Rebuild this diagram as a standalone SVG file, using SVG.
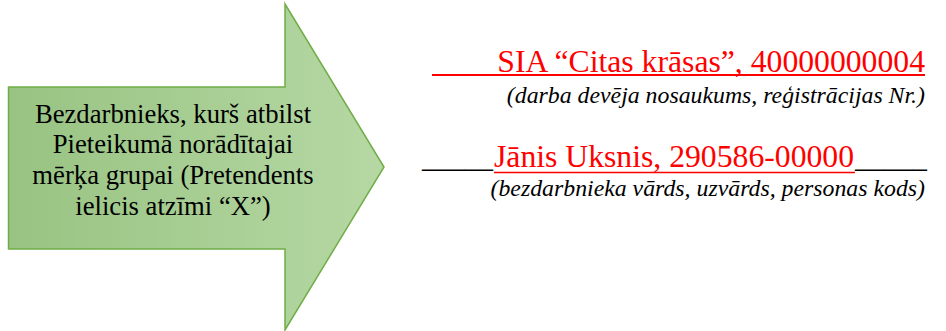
<svg xmlns="http://www.w3.org/2000/svg" width="946" height="331" viewBox="0 0 946 331">
<defs>
<linearGradient id="g" x1="0" y1="0" x2="1" y2="0">
<stop offset="0" stop-color="#98c382"/>
<stop offset="1" stop-color="#b6d8a4"/>
</linearGradient>
<style>
text{font-family:'Liberation Serif','Times New Roman',Tinos,'DejaVu Serif',serif}
.a{font-size:26.67px;fill:#000;text-anchor:middle}
.r{font-size:31.7px;fill:#ff0000}
.b{font-size:31.7px;fill:#000}
.i{font-size:23.8px;font-style:italic;fill:#000;text-anchor:end}
</style>
</defs>
<rect width="946" height="331" fill="#fff"/>
<g id="arrow">
<path d="M8.5,87 L285,87 L285,4 L384,167 L285,330 L285,249 L8.5,249 Z" fill="url(#g)" stroke="#70ad47" stroke-width="1.5" stroke-linejoin="miter"/>
<text class="a" x="173" y="122.5">Bezdarbnieks, kurš atbilst</text>
<text class="a" x="173" y="153">Pieteikumā norādītajai</text>
<text class="a" x="173" y="184">mērķa grupai (Pretendents</text>
<text class="a" x="173" y="214.5">ielicis atzīmi “X”)</text>
</g>
<g id="employer">
<line x1="432" y1="75" x2="925" y2="75" stroke="#ff0000" stroke-width="2"/>
<text class="r" x="925" y="71.5" text-anchor="end">SIA “Citas krāsas”, 40000000004</text>
<text class="i" x="925" y="102.5">(darba devēja nosaukums, reģistrācijas Nr.)</text>
</g>
<g id="unemployed">
<text class="b" x="422" y="167" textLength="71" lengthAdjust="spacingAndGlyphs">_____</text>
<text class="r" x="494" y="167">Jānis Uksnis, 290586-00000</text>
<line x1="494" y1="172.5" x2="855" y2="172.5" stroke="#ff0000" stroke-width="1.6"/>
<text class="b" x="855" y="167" textLength="72" lengthAdjust="spacingAndGlyphs">_____</text>
<text class="i" x="925" y="195.5">(bezdarbnieka vārds, uzvārds, personas kods)</text>
</g>
</svg>
